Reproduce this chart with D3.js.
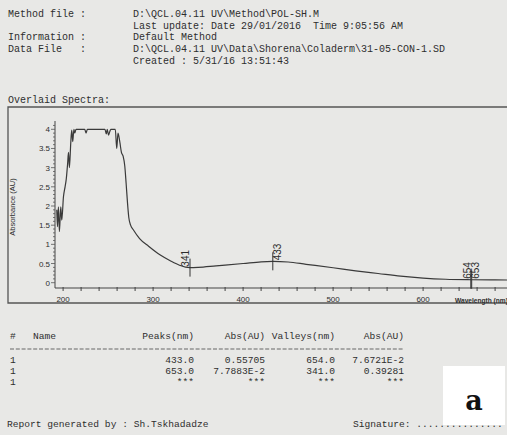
<!DOCTYPE html>
<html>
<head>
<meta charset="utf-8">
<script src="https://cdn.jsdelivr.net/npm/d3@7"></script>
<style>
  html, body { margin: 0; padding: 0; background: #e8e8e6; }
  svg text { white-space: pre; }
</style>
</head>
<body>
<div id="report"></div>
<script>
// header of the printed report
var headerLabels = ["Method file :", "", "Information :", "Data File   :", ""];
var headerValues = [
    "D:\\QCL.04.11 UV\\Method\\POL-SH.M",
    "Last update: Date 29/01/2016  Time 9:05:56 AM",
    "Default Method",
    "D:\\QCL.04.11 UV\\Data\\Shorena\\Coladerm\\31-05-CON-1.SD",
    "Created : 5/31/16 13:51:43"
];

// spectrum
var wavelengthNm = [193, 193.7, 194.8, 195.9, 197.4, 198.5, 200.4, 202.2, 203.5, 205, 206, 207, 208.5, 209.6, 210.7, 212, 213, 214.4,
    224, 225.5, 227, 246.5, 248, 249, 250.5, 252, 253, 258, 259.6, 261, 263, 264.8, 266.7, 268.5, 270, 271.5, 273, 275, 278,
    285, 295, 308, 320, 330, 336, 341, 350, 370, 400, 420, 433, 450, 470, 500, 525, 550, 575, 600, 625, 654, 680, 700];
var absorbance = [1.90, 1.46, 1.98, 1.33, 1.98, 1.63, 2.24, 2.50, 2.70, 3.10, 3.40, 3.00, 3.64, 3.98, 3.68, 4.00, 3.90, 4.00,
    4.00, 3.90, 4.00, 4.00, 3.88, 4.00, 3.85, 3.95, 4.00, 4.00, 3.50, 3.90, 3.67, 3.40, 3.30, 3.05, 2.60, 2.10, 1.70, 1.50, 1.38,
    1.15, 0.95, 0.72, 0.56, 0.45, 0.405, 0.393, 0.40, 0.44, 0.50, 0.545, 0.557, 0.54, 0.48, 0.39, 0.31, 0.24, 0.17, 0.12, 0.09, 0.077, 0.072, 0.07];

// peak / valley markers
var markerNm = [341, 433, 654, 653];
var markerAbs = [0.39281, 0.55705, 0.076721, 0.077883];
var markerKind = ["valley", "peak", "valley", "peak"];

var yTickValues = [0, 0.5, 1, 1.5, 2, 2.5, 3, 3.5, 4];
var xTickValues = [200, 300, 400, 500, 600];

// result table
var tableHeader = ["#", "Name", "Peaks(nm)", "Abs(AU)", "Valleys(nm)", "Abs(AU)"];
var tableRows = [
    ["1", "", "433.0", "0.55705", "654.0", "7.6721E-2"],
    ["1", "", "653.0", "7.7883E-2", "341.0", "0.39281"],
    ["1", "", "***", "***", "***", "***"]
];

var width = 507, height = 435;
var ink = "#2e2e2e";
var mono = "'Liberation Mono', 'DejaVu Sans Mono', monospace";
var sans = "'Liberation Sans', Arial, sans-serif";

var svg = d3.select("#report")
    .append("svg")
    .attr("width", width)
    .attr("height", height);

svg.append("rect")
    .attr("width", width)
    .attr("height", height)
    .attr("fill", "#e8e8e6");

// header block
var header = svg.append("g")
    .style("font-family", mono)
    .style("font-size", "10px")
    .attr("fill", ink);

headerValues.forEach(function (v, i) {
    var y = 17 + i * 11.7;
    header.append("text").attr("x", 8).attr("y", y).text(headerLabels[i]);
    header.append("text").attr("x", 133).attr("y", y).text(v);
});

header.append("text").attr("x", 8).attr("y", 103).text("Overlaid Spectra:");

// chart frame
svg.append("path")
    .attr("d", "M" + (width + 5) + ",107 H8 V303 H" + (width + 5))
    .attr("fill", "none")
    .attr("stroke", "#555")
    .attr("stroke-width", 1.3);

var x = d3.scaleLinear().domain([191, 700]).range([55, 55 + 509 * 0.9]);
var y = d3.scaleLinear().domain([0, 4]).range([282.7, 129.3]);

var axisY0 = 288;

// x axis
var xAxisG = svg.append("g")
    .attr("transform", "translate(0," + axisY0 + ")");
xAxisG.append("line")
    .attr("x1", 55).attr("x2", width)
    .attr("stroke", "#444");
xAxisG.selectAll(".minor")
    .data(d3.range(200, 701, 20))
    .enter()
    .append("line")
    .attr("x1", function (d) { return x(d); })
    .attr("x2", function (d) { return x(d); })
    .attr("y1", -1)
    .attr("y2", 3)
    .attr("stroke", "#444");
xAxisG.selectAll(".lbl")
    .data(xTickValues)
    .enter()
    .append("text")
    .attr("x", function (d) { return x(d); })
    .attr("y", 14)
    .attr("text-anchor", "middle")
    .style("font-family", sans)
    .style("font-size", "8px")
    .attr("fill", ink)
    .text(function (d) { return d; });
xAxisG.append("text")
    .attr("x", 455)
    .attr("y", 15)
    .style("font-family", sans)
    .style("font-size", "6.6px")
    .style("font-weight", "bold")
    .attr("fill", ink)
    .text("Wavelength (nm)");

// y axis
var yAxisG = svg.append("g")
    .attr("transform", "translate(55,0)");
yAxisG.append("line")
    .attr("y1", 121).attr("y2", axisY0)
    .attr("stroke", "#444");
yAxisG.selectAll(".minor")
    .data(d3.range(0, 42).map(function (i) { return i / 10; }))
    .enter()
    .append("line")
    .attr("y1", function (d) { return y(d); })
    .attr("y2", function (d) { return y(d); })
    .attr("x1", function (d, i) { return i % 5 == 0 ? -4 : -2; })
    .attr("x2", 0)
    .attr("stroke", "#555")
    .attr("stroke-width", 0.8);
yAxisG.selectAll(".lbl")
    .data(yTickValues)
    .enter()
    .append("text")
    .attr("x", -5)
    .attr("y", function (d) { return y(d) + 3; })
    .attr("text-anchor", "end")
    .style("font-family", sans)
    .style("font-size", "8px")
    .attr("fill", ink)
    .text(function (d) { return d; });
svg.append("text")
    .attr("transform", "translate(15,207) rotate(-90)")
    .attr("text-anchor", "middle")
    .style("font-family", sans)
    .style("font-size", "7.5px")
    .attr("fill", ink)
    .text("Absorbance (AU)");

// spectrum
var line = d3.line()
    .x(function (d) { return x(d[0]); })
    .y(function (d) { return y(d[1]); })
    .curve(d3.curveMonotoneX);

svg.append("path")
    .datum(d3.zip(wavelengthNm, absorbance))
    .attr("d", line)
    .attr("fill", "none")
    .attr("stroke", "#3a3a3a")
    .attr("stroke-width", 1.2);

// markers
var markers = svg.append("g");
markerNm.forEach(function (nm, i) {
    var mx = x(nm), my = y(markerAbs[i]);
    markers.append("line")
        .attr("x1", mx).attr("x2", mx)
        .attr("y1", my - 9).attr("y2", my + 9)
        .attr("stroke", "#333");
    var tx = markerKind[i] == "valley" ? mx - 1 : mx + 8.5;
    markers.append("text")
        .attr("transform", "translate(" + tx + "," + (my - 1) + ") rotate(-90)")
        .style("font-family", sans)
        .style("font-size", "10px")
        .attr("fill", ink)
        .text(nm);
});

// results table
var colX = [10, 33, 194, 265, 335, 404];
var colAnchor = ["start", "start", "end", "end", "end", "end"];
var table = svg.append("g")
    .style("font-family", mono)
    .style("font-size", "9.6px")
    .attr("fill", ink);

function tableLine(cells, yy) {
    cells.forEach(function (c, j) {
        table.append("text")
            .attr("x", colX[j])
            .attr("y", yy)
            .attr("text-anchor", colAnchor[j])
            .text(c);
    });
}
tableLine(tableHeader, 339);
table.append("line")
    .attr("x1", 10).attr("x2", 404)
    .attr("y1", 349).attr("y2", 349)
    .attr("stroke", "#666")
    .attr("stroke-dasharray", "4,1.8");
tableRows.forEach(function (r, i) {
    tableLine(r, 363 + i * 10.8);
});

// footer
table.append("text").attr("x", 7).attr("y", 427).text("Report generated by : Sh.Tskhadadze");
table.append("text").attr("x", 353).attr("y", 427).text("Signature: ...............");

// panel tag
svg.append("rect")
    .attr("x", 443).attr("y", 366)
    .attr("width", 62).attr("height", 59)
    .attr("fill", "#ffffff");
svg.append("text")
    .attr("x", 474).attr("y", 410)
    .attr("text-anchor", "middle")
    .style("font-family", "'DejaVu Serif', serif")
    .style("font-weight", "bold")
    .style("font-size", "27px")
    .attr("fill", "#111")
    .text("a");
</script>
</body>
</html>
